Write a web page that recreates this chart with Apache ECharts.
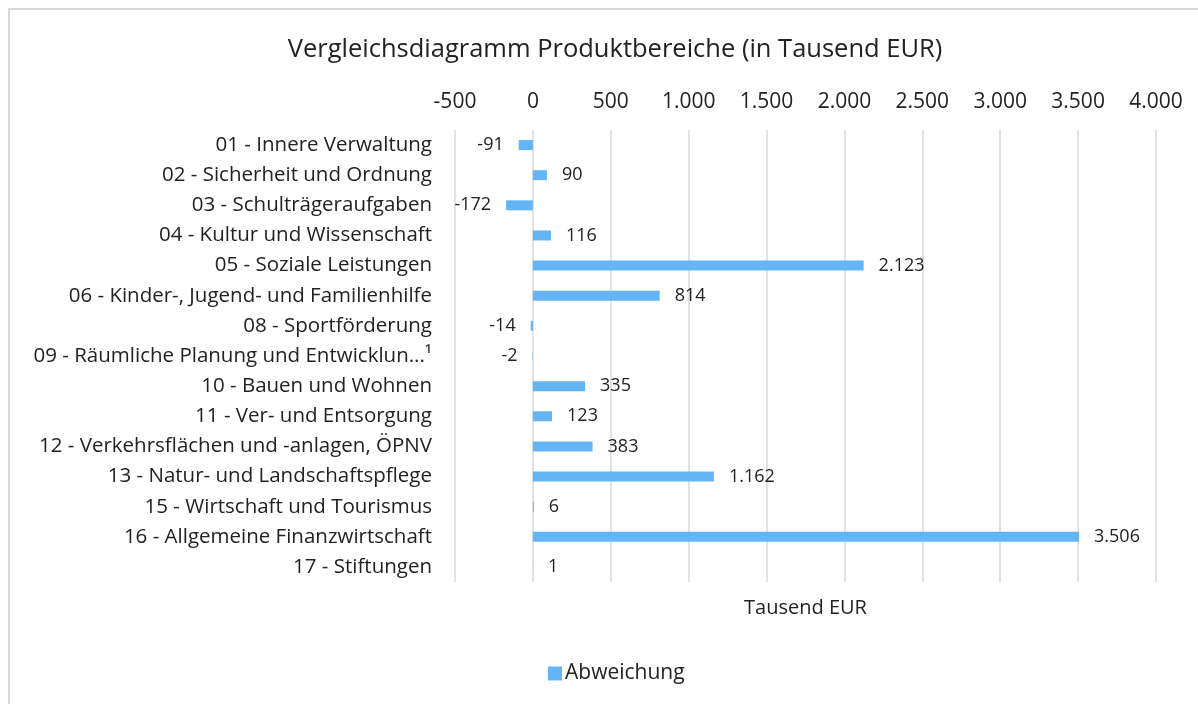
<!DOCTYPE html>
<html>
<head>
<meta charset="utf-8">
<script src="https://cdn.jsdelivr.net/npm/echarts@6/dist/echarts.min.js"></script>
<style>
  html, body { margin: 0; padding: 0; background: #fff; }
  #chart { width: 1198px; height: 704px; }
</style>
</head>
<body>
<div id="chart"></div>
<script>
// Produktbereiche (Kategorien)
const categories = [
  '01 - Innere Verwaltung',
  '02 - Sicherheit und Ordnung',
  '03 - Schulträgeraufgaben',
  '04 - Kultur und Wissenschaft',
  '05 - Soziale Leistungen',
  '06 - Kinder-, Jugend- und Familienhilfe',
  '08 - Sportförderung',
  '09 - Räumliche Planung und Entwicklun...¹',
  '10 - Bauen und Wohnen',
  '11 - Ver- und Entsorgung',
  '12 - Verkehrsflächen und -anlagen, ÖPNV',
  '13 - Natur- und Landschaftspflege',
  '15 - Wirtschaft und Tourismus',
  '16 - Allgemeine Finanzwirtschaft',
  '17 - Stiftungen'
]
// Abweichung in Tausend EUR
const abweichung = [-91, 90, -172, 116, 2123, 814, -14, -2, 335, 123, 383, 1162, 6, 3506, 1]

const font = 'Open Sans'

// deutsche Tausendertrennung
function fmt (v) {
  const s = String(Math.abs(v)).replace(/\B(?=(\d{3})+(?!\d))/g, '.')
  return (v < 0 ? '-' : '') + s
}

const chart = echarts.init(document.getElementById('chart'))
chart.setOption({
  animation: false,
  textStyle: { fontFamily: font },
  title: {
    text: 'Vergleichsdiagramm Produktbereiche (in Tausend EUR)',
    left: 610,
    textAlign: 'center',
    top: 32,
    textStyle: { fontFamily: font, fontSize: 25.5, fontWeight: 'normal', color: '#222' }
  },
  graphic: [{
    type: 'rect',
    shape: { x: 9, y: 9, width: 1400, height: 900 },
    style: { fill: 'none', stroke: '#d9d9d9', lineWidth: 2 },
    silent: true
  }],
  legend: {
    data: ['Abweichung'],
    left: 543,
    top: 658,
    itemWidth: 14,
    itemHeight: 14,
    itemGap: 4,
    icon: 'rect',
    textStyle: { fontFamily: font, fontSize: 21, color: '#222', padding: [0, 0, 0, -2] }
  },
  grid: { left: 455, right: 42, top: 130, bottom: 122, containLabel: false },
  xAxis: [{
    type: 'value',
    position: 'top',
    min: -500,
    max: 4000,
    interval: 500,
    axisLine: { show: false },
    axisTick: { show: false },
    axisLabel: { fontFamily: font, fontSize: 21, color: '#222', margin: 17, formatter: fmt },
    splitLine: { lineStyle: { color: '#d9d9d9', width: 1.5 } }
  }, {
    type: 'value',
    position: 'bottom',
    min: -500,
    max: 4000,
    interval: 500,
    name: 'Tausend EUR',
    nameLocation: 'middle',
    nameGap: 16,
    nameTextStyle: { fontFamily: font, fontSize: 20, color: '#222' },
    axisLine: { show: false },
    axisTick: { show: false },
    axisLabel: { show: false },
    splitLine: { show: false }
  }],
  yAxis: {
    type: 'category',
    inverse: true,
    data: categories,
    axisLine: { show: false },
    axisTick: { show: false },
    axisLabel: { fontFamily: font, fontSize: 20.5, color: '#222', margin: 23 }
  },
  series: [{
    name: 'Abweichung',
    type: 'bar',
    barWidth: 10,
    itemStyle: { color: '#63b5f6' },
    label: {
      show: true,
      distance: 15,
      fontFamily: font,
      fontSize: 18,
      color: '#222',
      formatter: p => fmt(p.value)
    },
    data: abweichung.map(v => ({
      value: v,
      label: { position: v < 0 ? 'left' : 'right' }
    }))
  }]
})
</script>
</body>
</html>
